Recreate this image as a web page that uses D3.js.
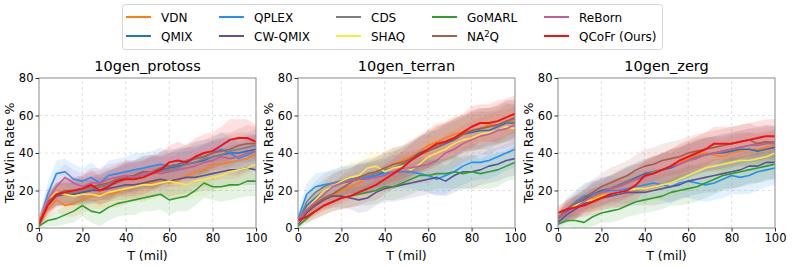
<!DOCTYPE html>
<html>
<head>
<meta charset="utf-8">
<script src="https://cdn.jsdelivr.net/npm/d3@7"></script>
<style>
  body { margin: 0; background: #fff; }
  text { font-family: "DejaVu Sans", sans-serif; fill: #000; }
</style>
</head>
<body>
<div id="chart"></div>
<script>
// training steps (million), one sample every 4 mil
const steps = d3.range(0, 101, 4);

const methods = ['VDN', 'QMIX', 'QPLEX', 'CW-QMIX', 'CDS', 'SHAQ', 'GoMARL', 'NA2Q', 'ReBorn', 'QCoFr (Ours)'];
const colors = ['#ff7f0e', '#1f77b4', '#1e90ff', '#5e5297', '#7f7f7f', '#f7ea3b', '#2ca02c', '#a65f47', '#c65a9e', '#ff0d0d'];

const panels = ['10gen_protoss', '10gen_terran', '10gen_zerg'];
const xTicks = [0, 20, 40, 60, 80, 100];
const yTicks = [0, 20, 40, 60, 80];

// mean test win rate, per panel, per method (same order as methods)
const protossMean = [
  [2, 10, 15, 12, 13, 15, 17, 18, 18, 19, 21, 22, 23, 24, 26, 24, 25, 28, 30, 31, 34, 34, 35, 36, 37, 40],
  [3, 14, 18, 18, 18, 19, 20, 22, 23, 25, 27, 28, 30, 30, 31, 32, 33, 34, 35, 36, 38, 39, 40, 40, 41, 42],
  [3, 18, 29, 30, 26, 25, 27, 24, 28, 29, 30, 31, 32, 33, 34, 33, 34, 35, 37, 38, 40, 42, 40, 37, 39, 41],
  [2, 12, 17, 18, 18, 19, 20, 20, 21, 22, 23, 23, 24, 25, 26, 25, 26, 27, 27, 28, 29, 30, 31, 31, 32, 31],
  [3, 13, 18, 19, 19, 20, 21, 22, 23, 24, 26, 27, 28, 29, 30, 31, 32, 34, 35, 37, 38, 39, 41, 42, 43, 44],
  [4, 15, 19, 18, 17, 18, 18, 17, 19, 20, 21, 22, 23, 23, 24, 25, 24, 23, 25, 26, 27, 28, 30, 31, 32, 34],
  [1, 4, 5, 7, 9, 12, 9, 8, 11, 13, 14, 15, 16, 17, 18, 15, 16, 17, 20, 24, 22, 22, 23, 23, 25, 25],
  [3, 14, 18, 20, 20, 21, 22, 23, 24, 26, 27, 28, 30, 30, 32, 33, 34, 36, 37, 38, 40, 41, 42, 44, 45, 45],
  [3, 15, 22, 27, 24, 22, 24, 24, 26, 27, 28, 27, 29, 30, 29, 30, 31, 32, 33, 35, 36, 38, 37, 38, 40, 41],
  [2, 12, 18, 19, 20, 21, 23, 20, 22, 25, 26, 26, 27, 29, 31, 35, 36, 35, 38, 40, 41, 44, 47, 48, 48, 46]
];
const terranMean = [
  [3, 8, 12, 15, 17, 20, 22, 24, 27, 30, 32, 34, 36, 38, 41, 44, 46, 48, 50, 51, 52, 53, 55, 55, 57, 57],
  [3, 12, 16, 20, 22, 24, 25, 26, 27, 28, 30, 32, 34, 37, 40, 42, 43, 45, 47, 50, 51, 52, 52, 54, 56, 56],
  [5, 18, 22, 23, 24, 25, 26, 26, 27, 28, 29, 30, 30, 30, 29, 28, 26, 28, 30, 33, 35, 35, 36, 38, 40, 42],
  [2, 8, 12, 15, 17, 17, 16, 15, 16, 19, 21, 22, 23, 24, 25, 26, 27, 25, 28, 30, 30, 31, 33, 34, 36, 37],
  [3, 14, 19, 22, 24, 25, 26, 27, 28, 29, 31, 32, 34, 36, 39, 41, 44, 46, 48, 50, 52, 53, 54, 55, 57, 58],
  [3, 10, 15, 20, 22, 25, 27, 28, 32, 33, 30, 32, 33, 31, 34, 38, 40, 42, 45, 47, 48, 50, 51, 52, 54, 53],
  [1, 5, 9, 12, 14, 16, 17, 18, 19, 20, 22, 22, 24, 26, 28, 28, 29, 29, 30, 29, 30, 29, 30, 31, 33, 35],
  [4, 9, 13, 16, 18, 21, 24, 27, 29, 30, 32, 34, 35, 37, 39, 41, 43, 46, 48, 50, 52, 53, 54, 55, 57, 59],
  [4, 10, 14, 18, 22, 24, 25, 26, 26, 27, 28, 30, 32, 32, 33, 34, 36, 40, 42, 45, 47, 49, 50, 52, 53, 55],
  [4, 6, 9, 12, 14, 16, 17, 19, 21, 23, 26, 29, 32, 36, 39, 42, 45, 46, 48, 51, 54, 56, 56, 57, 59, 61]
];
const zergMean = [
  [5, 8, 11, 14, 16, 18, 20, 22, 24, 26, 28, 30, 31, 33, 35, 37, 39, 40, 39, 38, 40, 41, 42, 42, 43, 44],
  [5, 9, 12, 15, 18, 20, 21, 23, 25, 27, 29, 30, 31, 32, 34, 36, 38, 39, 40, 40, 41, 42, 42, 41, 42, 43],
  [5, 10, 14, 17, 18, 19, 20, 20, 21, 22, 23, 24, 23, 22, 24, 25, 24, 23, 24, 26, 28, 27, 28, 30, 31, 32],
  [3, 7, 10, 13, 15, 16, 17, 18, 19, 19, 19, 20, 21, 22, 23, 25, 26, 27, 28, 29, 30, 31, 33, 33, 35, 35],
  [5, 8, 11, 14, 17, 19, 21, 23, 25, 26, 28, 30, 31, 33, 34, 36, 38, 39, 40, 41, 42, 43, 44, 45, 46, 46],
  [7, 10, 12, 14, 15, 17, 18, 19, 20, 21, 21, 22, 23, 24, 26, 28, 30, 32, 33, 34, 35, 36, 36, 37, 38, 40],
  [2, 4, 4, 3, 6, 8, 9, 10, 12, 14, 15, 16, 17, 19, 20, 21, 22, 24, 26, 28, 29, 30, 31, 32, 33, 34],
  [6, 10, 13, 16, 19, 22, 24, 26, 28, 31, 33, 34, 36, 37, 38, 40, 41, 42, 43, 44, 45, 46, 47, 45, 46, 45],
  [6, 8, 11, 14, 17, 19, 21, 22, 24, 26, 27, 29, 31, 33, 34, 36, 37, 39, 40, 41, 42, 43, 44, 44, 45, 45],
  [8, 10, 11, 12, 14, 16, 18, 19, 20, 23, 28, 29, 31, 33, 36, 38, 40, 42, 45, 45, 45, 46, 47, 48, 49, 49]
];

// standard deviation across seeds (shaded band), same layout
const protossStd = [
  [3, 5, 6, 6, 7, 7, 7, 8, 7, 8, 8, 8, 9, 8, 9, 8, 9, 9, 8, 9, 9, 8, 9, 9, 8, 9],
  [3, 5, 6, 6, 6, 7, 7, 7, 8, 7, 8, 8, 8, 9, 8, 8, 9, 9, 8, 9, 9, 9, 8, 9, 9, 8],
  [3, 6, 7, 7, 8, 7, 8, 7, 8, 8, 8, 9, 8, 8, 9, 8, 9, 8, 9, 9, 8, 9, 9, 8, 9, 9],
  [2, 5, 6, 6, 6, 6, 7, 7, 7, 7, 8, 7, 8, 8, 8, 8, 8, 9, 8, 8, 9, 8, 9, 8, 9, 8],
  [3, 5, 6, 6, 7, 7, 7, 7, 8, 8, 8, 8, 8, 9, 8, 9, 9, 9, 9, 8, 9, 9, 9, 9, 8, 9],
  [3, 5, 6, 6, 6, 7, 6, 7, 7, 7, 8, 7, 8, 8, 7, 8, 8, 8, 8, 9, 8, 8, 9, 8, 9, 8],
  [2, 3, 4, 5, 6, 6, 6, 7, 7, 7, 7, 8, 7, 8, 8, 8, 7, 8, 8, 8, 7, 8, 8, 7, 8, 8],
  [3, 5, 6, 7, 7, 7, 8, 8, 8, 8, 9, 8, 9, 9, 9, 9, 8, 9, 9, 9, 9, 10, 9, 9, 10, 9],
  [3, 6, 7, 7, 7, 7, 8, 8, 8, 8, 8, 9, 8, 9, 9, 8, 9, 9, 9, 9, 10, 9, 9, 10, 9, 9],
  [3, 5, 6, 7, 7, 7, 8, 8, 8, 8, 9, 9, 9, 9, 9, 9, 10, 9, 10, 10, 10, 10, 11, 10, 10, 9]
];
const terranStd = [
  [2, 4, 5, 6, 6, 7, 7, 7, 8, 8, 8, 9, 8, 9, 9, 9, 10, 9, 10, 9, 10, 10, 9, 10, 10, 9],
  [2, 5, 6, 6, 7, 7, 7, 8, 8, 8, 8, 9, 9, 9, 9, 10, 9, 10, 10, 9, 10, 10, 10, 9, 10, 10],
  [3, 6, 7, 7, 7, 8, 7, 8, 8, 8, 8, 9, 9, 9, 9, 9, 9, 10, 9, 10, 10, 9, 10, 10, 9, 10],
  [2, 4, 5, 5, 6, 6, 6, 7, 7, 7, 7, 8, 8, 8, 8, 8, 9, 8, 9, 9, 9, 8, 9, 9, 9, 9],
  [2, 5, 6, 7, 7, 7, 8, 8, 8, 8, 9, 9, 9, 9, 10, 9, 10, 10, 10, 10, 10, 11, 10, 10, 11, 10],
  [2, 5, 6, 6, 7, 7, 8, 8, 8, 8, 8, 9, 9, 9, 9, 9, 10, 9, 10, 10, 10, 10, 10, 10, 10, 10],
  [1, 3, 4, 5, 5, 6, 6, 6, 7, 7, 7, 7, 8, 8, 8, 8, 8, 8, 9, 8, 9, 8, 9, 9, 8, 9],
  [2, 4, 5, 6, 6, 7, 7, 8, 8, 8, 9, 9, 9, 9, 10, 10, 10, 10, 11, 10, 11, 11, 10, 11, 11, 10],
  [2, 4, 5, 6, 7, 7, 7, 8, 8, 8, 8, 9, 9, 9, 9, 10, 9, 10, 10, 10, 10, 10, 11, 10, 10, 10],
  [2, 3, 4, 5, 5, 6, 6, 7, 7, 8, 8, 8, 9, 9, 9, 10, 10, 10, 10, 10, 11, 10, 10, 11, 10, 10]
];
const zergStd = [
  [3, 5, 6, 6, 7, 7, 7, 8, 8, 8, 8, 9, 8, 9, 9, 9, 9, 9, 9, 9, 9, 9, 9, 9, 9, 9],
  [3, 5, 6, 6, 7, 7, 7, 7, 8, 8, 8, 8, 9, 8, 9, 9, 9, 9, 9, 9, 9, 9, 9, 9, 9, 9],
  [3, 6, 6, 7, 7, 7, 8, 7, 8, 8, 8, 8, 8, 9, 8, 9, 9, 9, 9, 10, 10, 9, 10, 10, 9, 9],
  [2, 4, 5, 6, 6, 6, 7, 7, 7, 7, 7, 8, 8, 8, 8, 8, 8, 8, 9, 8, 9, 9, 9, 9, 9, 9],
  [3, 5, 6, 6, 7, 7, 7, 8, 8, 8, 8, 8, 9, 9, 9, 9, 9, 9, 9, 9, 9, 9, 9, 9, 9, 9],
  [3, 5, 5, 6, 6, 6, 7, 7, 7, 7, 8, 8, 8, 8, 8, 8, 9, 8, 9, 9, 9, 9, 9, 9, 9, 9],
  [2, 3, 4, 4, 5, 5, 6, 6, 6, 7, 7, 7, 7, 7, 8, 8, 8, 8, 8, 8, 8, 8, 8, 8, 8, 8],
  [4, 5, 6, 7, 7, 7, 8, 8, 8, 8, 9, 9, 9, 9, 9, 9, 9, 9, 9, 9, 9, 9, 9, 9, 9, 9],
  [3, 5, 6, 6, 7, 7, 7, 8, 8, 8, 8, 8, 9, 9, 9, 9, 9, 9, 9, 9, 9, 9, 9, 9, 9, 9],
  [4, 5, 6, 6, 7, 7, 7, 8, 8, 8, 8, 9, 9, 9, 9, 9, 9, 9, 9, 9, 9, 9, 9, 9, 9, 9]
];

const panelMeans = [protossMean, terranMean, zergMean];
const panelStds = [protossStd, terranStd, zergStd];

const W = 793, H = 267;
const svg = d3.select('#chart').append('svg')
  .attr('width', W).attr('height', H);

const plotLeft = [39, 298, 558];
const plotW = 217;
const plotTop = 78, plotBottom = 228;

panels.forEach((name, p) => {
  const x = d3.scaleLinear().domain([0, 100]).range([plotLeft[p], plotLeft[p] + plotW]);
  const y = d3.scaleLinear().domain([0, 80]).range([plotBottom, plotTop]);
  const g = svg.append('g');

  g.append('defs').append('clipPath').attr('id', 'clip' + p)
    .append('rect')
    .attr('x', x(0)).attr('y', y(80))
    .attr('width', x(100) - x(0)).attr('height', y(0) - y(80));

  // grid
  g.selectAll('.vgrid').data(xTicks.slice(1, -1)).enter().append('line')
    .attr('x1', d => x(d)).attr('x2', d => x(d))
    .attr('y1', y(0)).attr('y2', y(80))
    .attr('stroke', '#d9d9d9').attr('stroke-dasharray', '3,3').attr('stroke-width', 0.8);
  g.selectAll('.hgrid').data(yTicks.slice(1, -1)).enter().append('line')
    .attr('x1', x(0)).attr('x2', x(100))
    .attr('y1', d => y(d)).attr('y2', d => y(d))
    .attr('stroke', '#d9d9d9').attr('stroke-dasharray', '3,3').attr('stroke-width', 0.8);

  const plot = g.append('g').attr('clip-path', `url(#clip${p})`);
  const means = panelMeans[p];
  const stds = panelStds[p];

  // bands first, then lines
  methods.forEach((m, i) => {
    const area = d3.area()
      .x((d, k) => x(steps[k]))
      .y0((d, k) => y(Math.max(0, d - stds[i][k])))
      .y1((d, k) => y(d + stds[i][k]));
    plot.append('path')
      .datum(means[i])
      .attr('d', area)
      .attr('fill', colors[i])
      .attr('fill-opacity', 0.13)
      .attr('stroke', 'none');
  });
  methods.forEach((m, i) => {
    const line = d3.line()
      .x((d, k) => x(steps[k]))
      .y(d => y(d));
    plot.append('path')
      .datum(means[i])
      .attr('d', line)
      .attr('fill', 'none')
      .attr('stroke', colors[i])
      .attr('stroke-width', i === 9 ? 2 : 1.6)
      .attr('stroke-linejoin', 'round');
  });

  // frame
  g.append('rect')
    .attr('x', x(0)).attr('y', y(80))
    .attr('width', x(100) - x(0)).attr('height', y(0) - y(80))
    .attr('fill', 'none').attr('stroke', '#8a8a8a').attr('stroke-width', 1);

  // axes
  const xAxis = g.append('g')
    .attr('transform', `translate(0,${plotBottom})`)
    .call(d3.axisBottom(x).tickValues(xTicks).tickSize(3.5).tickPadding(2));
  const yAxis = g.append('g')
    .attr('transform', `translate(${plotLeft[p]},0)`)
    .call(d3.axisLeft(y).tickValues(yTicks).tickSize(3.5).tickPadding(2));
  [xAxis, yAxis].forEach(a => {
    a.select('.domain').remove();
    a.selectAll('line').attr('stroke', '#333');
    a.selectAll('text').style('font-size', '11.5px').style('font-family', '"DejaVu Sans", sans-serif').attr('fill', '#000');
  });

  g.append('text')
    .attr('x', (x(0) + x(100)) / 2).attr('y', 71)
    .attr('text-anchor', 'middle')
    .style('font-size', '14.5px')
    .text(name);

  g.append('text')
    .attr('x', (x(0) + x(100)) / 2).attr('y', 260)
    .attr('text-anchor', 'middle')
    .style('font-size', '12.5px')
    .text('T (mil)');

  g.append('text')
    .attr('transform', `translate(${plotLeft[p] - 25},${(plotTop + plotBottom) / 2}) rotate(-90)`)
    .attr('text-anchor', 'middle')
    .style('font-size', '12.5px')
    .text('Test Win Rate %');
});

// legend, 5 columns x 2 rows, filled column by column
const legend = svg.append('g');
legend.append('rect')
  .attr('x', 122.5).attr('y', 4.5).attr('width', 540).attr('height', 45)
  .attr('rx', 3).attr('fill', '#fff').attr('stroke', '#d6d6d6');
const colLine = [126, 219, 336, 432, 544];
const rowY = [17, 36];
methods.forEach((m, i) => {
  const c = Math.floor(i / 2), r = i % 2;
  legend.append('line')
    .attr('x1', colLine[c]).attr('x2', colLine[c] + 25)
    .attr('y1', rowY[r]).attr('y2', rowY[r])
    .attr('stroke', colors[i]).attr('stroke-width', 2);
  const t = legend.append('text')
    .attr('x', colLine[c] + 35).attr('y', rowY[r] + 4.5)
    .style('font-size', '12px');
  if (m === 'NA2Q') {
    t.append('tspan').text('NA');
    t.append('tspan').attr('dy', -4).style('font-size', '8.5px').text('2');
    t.append('tspan').attr('dy', 4).text('Q');
  } else {
    t.text(m);
  }
});
</script>
</body>
</html>
